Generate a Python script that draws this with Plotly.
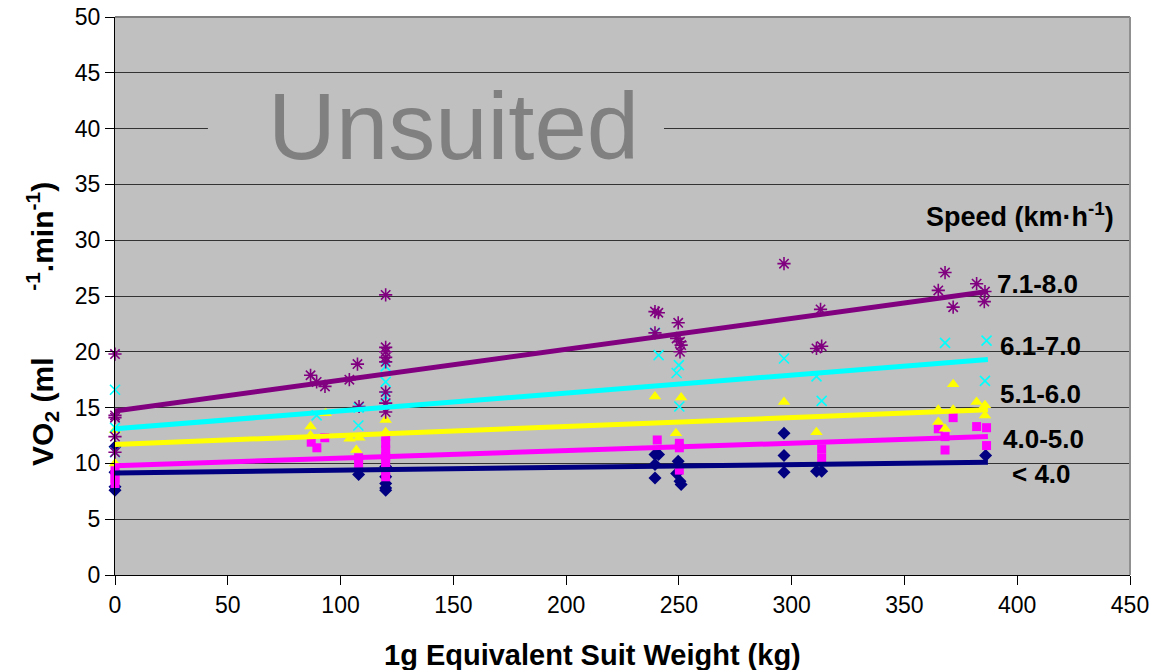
import plotly.graph_objects as go

# ---------------- data ----------------
series_names = ["< 4.0", "4.0-5.0", "5.1-6.0", "6.1-7.0", "7.1-8.0"]

x_lt4 = [0, 0, 0, 0, 108, 120, 120, 120, 120, 120, 239.4, 241, 239.4, 239.4,
         249.7, 249, 250.5, 251, 296.6, 296.6, 296.6, 311, 313.3, 386]
y_lt4 = [7.6, 7.9, 9.2, 11.5, 9.0, 9.7, 8.8, 8.2, 7.8, 7.6, 10.8, 10.8, 9.9, 8.7,
         10.2, 9.1, 8.4, 8.1, 12.7, 10.7, 9.2, 9.3, 9.3, 10.7]

x_4_5 = [0, 0, 0, 0, 87, 89.5, 93, 108, 108, 120, 120, 120, 120, 120, 120, 120,
         240.4, 250.2, 250.2, 250.2, 313.3, 313.3, 365, 368, 368, 371.6, 382, 386.4, 386.4]
y_4_5 = [9.4, 9.0, 8.6, 8.2, 11.9, 11.4, 12.3, 10.5, 10.0, 12.4, 11.8, 11.2, 10.6, 10.0, 9.4, 8.8,
         12.1, 11.8, 11.4, 9.4, 11.3, 10.5, 13.1, 12.4, 11.2, 14.1, 13.3, 13.2, 11.6]

x_5_6 = [0, 0, 86.7, 86.7, 93.4, 104, 108.3, 107, 120, 120, 239.4, 251, 248.7,
         296.6, 311, 365, 365, 368, 371.6, 371.6, 382, 385.7, 385.7]
y_5_6 = [13.0, 10.0, 13.3, 12.5, 14.5, 12.2, 12.3, 11.2, 13.9, 12.8, 16.0, 15.9, 12.7,
         15.5, 12.8, 14.8, 13.7, 13.1, 17.1, 14.8, 15.5, 15.2, 14.3]

x_6_7 = [0, 0, 0, 89.4, 107.9, 108, 120, 120, 120, 239.4, 241, 250, 249, 250.2,
         296.6, 311, 313.3, 368, 386.4, 385.7]
y_6_7 = [16.6, 13.2, 11.0, 14.3, 13.4, 15.0, 18.7, 17.3, 16.0, 21.7, 19.7, 18.8, 18.1, 15.1,
         19.4, 17.8, 15.6, 20.8, 21.0, 17.4]

x_7_8 = [0, 0, 0, 0, 0, 86.7, 89.4, 93.1, 103.9, 107.5, 108.2,
         120, 120, 120, 120, 120, 120, 120, 120,
         239.4, 240.9, 239.4, 249.7, 249, 250.5, 251, 250.5,
         296.6, 312.8, 311, 313.3, 368, 365, 371.6, 382, 385.7, 385.4]
y_7_8 = [19.8, 14.3, 14.1, 12.4, 11.0, 17.9, 17.3, 16.9, 17.5, 18.9, 15.1,
         25.1, 20.4, 20.0, 19.5, 19.1, 16.4, 15.4, 14.6,
         23.6, 23.5, 21.7, 22.6, 21.2, 20.9, 20.6, 20.0,
         27.9, 23.8, 20.3, 20.5, 27.1, 25.5, 24.0, 26.1, 25.4, 24.5]

# trend line endpoints (x range and fitted values)
trend_x = [0, 387]
trend_lt4 = [9.15, 10.1]
trend_4_5 = [9.8, 12.4]
trend_5_6 = [11.7, 14.8]
trend_6_7 = [13.1, 19.3]
trend_7_8 = [14.7, 25.4]

# label positions (legend-like text next to the trend lines)
label_x = [397.0, 393.0, 391.6, 391.6, 390.2]
label_y = [9.05, 12.2, 16.2, 20.5, 26.1]

x_ticks = [0, 50, 100, 150, 200, 250, 300, 350, 400, 450]
y_ticks = [0, 5, 10, 15, 20, 25, 30, 35, 40, 45, 50]

# ---------------- styles ----------------
colors = ["#000080", "#FF00FF", "#FFFF00", "#00FFFF", "#800080"]
symbols = ["diamond", "square", "triangle-up", "x-thin-open", "asterisk-open"]
sizes = [10, 9, 11, 10, 11]

FONT = "Liberation Sans, Arial, sans-serif"

fig = go.Figure()

xs = [x_lt4, x_4_5, x_5_6, x_6_7, x_7_8]
ys = [y_lt4, y_4_5, y_5_6, y_6_7, y_7_8]
trends = [trend_lt4, trend_4_5, trend_5_6, trend_6_7, trend_7_8]

for name, xv, yv, c, s, sz in zip(series_names, xs, ys, colors, symbols, sizes):
    line_w = 1.6 if "open" in s else 0
    fig.add_trace(go.Scatter(
        x=xv, y=yv, mode="markers", name=name,
        marker=dict(symbol=s, size=sz, color=c, line=dict(color=c, width=line_w)),
        showlegend=False, cliponaxis=False))

for name, tv, c in zip(series_names, trends, colors):
    fig.add_trace(go.Scatter(
        x=trend_x, y=tv, mode="lines", name=name + " trend",
        line=dict(color=c, width=5), showlegend=False))

annotations = []
for name, lx, ly in zip(series_names, label_x, label_y):
    annotations.append(dict(x=lx, y=ly, xref="x", yref="y", text="<b>%s</b>" % name,
                            showarrow=False, xanchor="left", yanchor="middle",
                            font=dict(family=FONT, size=26, color="black")))

annotations.append(dict(x=401.2, y=32.3, xref="x", yref="y",
                        text="<b>Speed (km·h<sup>-1</sup>)</b>", showarrow=False,
                        xanchor="center", yanchor="middle",
                        font=dict(family=FONT, size=27, color="black")))

annotations.append(dict(x=150.0, y=40.2, xref="x", yref="y", text="Unsuited",
                        showarrow=False, xanchor="center", yanchor="middle",
                        font=dict(family=FONT, size=94, color="#808080")))

# axis titles
annotations.append(dict(x=(592 - 115) / (1130 - 115), y=(575 - 655) / (575 - 17),
                        xref="paper", yref="paper",
                        text="<b>1g Equivalent Suit Weight (kg)</b>", showarrow=False,
                        xanchor="center", yanchor="middle",
                        font=dict(family=FONT, size=29, color="black")))
gap = "\u00a0" * 8
annotations.append(dict(x=-0.072, y=(575 - 324) / (575 - 17), xref="paper", yref="paper",
                        text="<b>VO<sub>2</sub> (ml" + gap + "<sup>-1</sup>.min<sup>-1</sup>)</b>",
                        showarrow=False, textangle=-90, xanchor="center", yanchor="middle",
                        font=dict(family=FONT, size=30, color="black")))

shapes = [
    # text box background hiding the 40 gridline behind the title
    dict(type="rect", xref="x", yref="y", x0=41.2, x1=243.4, y0=37.5, y1=42.5,
         fillcolor="#C0C0C0", line=dict(width=0), layer="between"),
    # top and right border of plot area
    dict(type="line", xref="paper", yref="paper", x0=0, x1=1, y0=1, y1=1,
         line=dict(color="#808080", width=2)),
    dict(type="line", xref="paper", yref="paper", x0=1, x1=1, y0=0, y1=1,
         line=dict(color="#909090", width=2)),
]

fig.update_layout(
    width=1171, height=670, autosize=False,
    margin=dict(l=115, r=41, t=17, b=95, pad=0, autoexpand=False),
    paper_bgcolor="white", plot_bgcolor="#C0C0C0",
    font=dict(family=FONT, size=23, color="black"),
    annotations=annotations, shapes=shapes,
    xaxis=dict(range=[0, 450], tickvals=x_ticks, ticktext=[str(v) for v in x_ticks],
               showgrid=False, zeroline=False, showline=True, linecolor="black",
               linewidth=1, ticks="outside", ticklen=9, tickcolor="black", automargin=False,
               tickfont=dict(family=FONT, size=23, color="black")),
    yaxis=dict(range=[0, 50], tickvals=y_ticks, ticktext=[str(v) for v in y_ticks],
               showgrid=True, gridcolor="#333333", gridwidth=1, zeroline=False,
               showline=True, linecolor="black", linewidth=1, ticks="outside",
               ticklen=9, tickcolor="black", automargin=False,
               tickfont=dict(family=FONT, size=23, color="black")),
)

fig.write_html("out.html", config={"displayModeBar": False},
               post_script="document.body.style.margin='0px';document.body.style.padding='0px';")
